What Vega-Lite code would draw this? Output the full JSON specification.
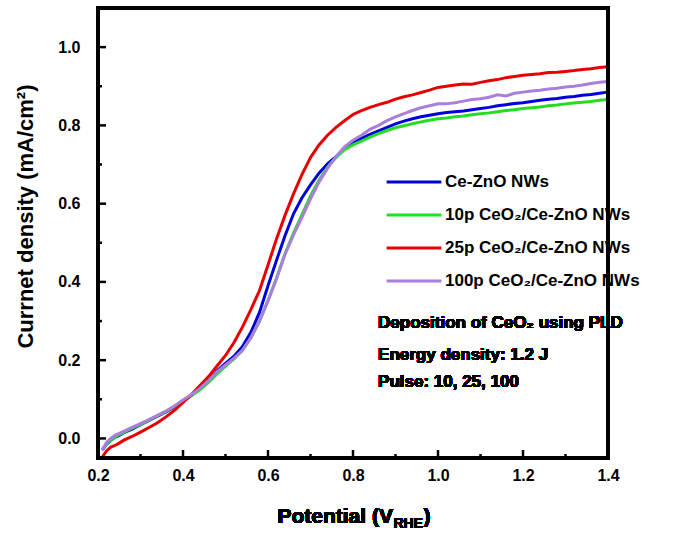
{
  "$schema": "https://vega.github.io/schema/vega-lite/v6.json",
  "width": 510,
  "height": 450,
  "autosize": {"type": "none"},
  "padding": {"left": 98, "top": 8, "right": 65, "bottom": 80},
  "background": "white",
  "config": {"view": {"stroke": "#000000", "strokeWidth": 2.5}, "font": "Liberation Sans"},
  "resolve": {"axis": {"x": "independent", "y": "independent"}},
  "data": {"values": [
    {"v":0.21,"Ce-ZnO NWs":-0.030,"10p CeO₂/Ce-ZnO NWs":-0.028,"25p CeO₂/Ce-ZnO NWs":-0.048,"100p CeO₂/Ce-ZnO NWs":-0.030},
    {"v":0.22,"Ce-ZnO NWs":-0.015,"10p CeO₂/Ce-ZnO NWs":-0.015,"25p CeO₂/Ce-ZnO NWs":-0.032,"100p CeO₂/Ce-ZnO NWs":-0.010},
    {"v":0.23,"Ce-ZnO NWs":-0.005,"10p CeO₂/Ce-ZnO NWs":-0.005,"25p CeO₂/Ce-ZnO NWs":-0.022,"100p CeO₂/Ce-ZnO NWs":0.000},
    {"v":0.24,"Ce-ZnO NWs":0.003,"10p CeO₂/Ce-ZnO NWs":0.004,"25p CeO₂/Ce-ZnO NWs":-0.018,"100p CeO₂/Ce-ZnO NWs":0.008},
    {"v":0.25,"Ce-ZnO NWs":0.008,"10p CeO₂/Ce-ZnO NWs":0.010,"25p CeO₂/Ce-ZnO NWs":-0.012,"100p CeO₂/Ce-ZnO NWs":0.013},
    {"v":0.26,"Ce-ZnO NWs":0.014,"10p CeO₂/Ce-ZnO NWs":0.015,"25p CeO₂/Ce-ZnO NWs":-0.005,"100p CeO₂/Ce-ZnO NWs":0.018},
    {"v":0.28,"Ce-ZnO NWs":0.024,"10p CeO₂/Ce-ZnO NWs":0.026,"25p CeO₂/Ce-ZnO NWs":0.005,"100p CeO₂/Ce-ZnO NWs":0.028},
    {"v":0.30,"Ce-ZnO NWs":0.035,"10p CeO₂/Ce-ZnO NWs":0.036,"25p CeO₂/Ce-ZnO NWs":0.016,"100p CeO₂/Ce-ZnO NWs":0.038},
    {"v":0.32,"Ce-ZnO NWs":0.046,"10p CeO₂/Ce-ZnO NWs":0.047,"25p CeO₂/Ce-ZnO NWs":0.028,"100p CeO₂/Ce-ZnO NWs":0.048},
    {"v":0.34,"Ce-ZnO NWs":0.057,"10p CeO₂/Ce-ZnO NWs":0.058,"25p CeO₂/Ce-ZnO NWs":0.040,"100p CeO₂/Ce-ZnO NWs":0.059},
    {"v":0.36,"Ce-ZnO NWs":0.068,"10p CeO₂/Ce-ZnO NWs":0.069,"25p CeO₂/Ce-ZnO NWs":0.055,"100p CeO₂/Ce-ZnO NWs":0.070},
    {"v":0.38,"Ce-ZnO NWs":0.081,"10p CeO₂/Ce-ZnO NWs":0.082,"25p CeO₂/Ce-ZnO NWs":0.072,"100p CeO₂/Ce-ZnO NWs":0.083},
    {"v":0.40,"Ce-ZnO NWs":0.096,"10p CeO₂/Ce-ZnO NWs":0.097,"25p CeO₂/Ce-ZnO NWs":0.092,"100p CeO₂/Ce-ZnO NWs":0.098},
    {"v":0.42,"Ce-ZnO NWs":0.110,"10p CeO₂/Ce-ZnO NWs":0.110,"25p CeO₂/Ce-ZnO NWs":0.112,"100p CeO₂/Ce-ZnO NWs":0.112},
    {"v":0.44,"Ce-ZnO NWs":0.128,"10p CeO₂/Ce-ZnO NWs":0.124,"25p CeO₂/Ce-ZnO NWs":0.135,"100p CeO₂/Ce-ZnO NWs":0.128},
    {"v":0.46,"Ce-ZnO NWs":0.150,"10p CeO₂/Ce-ZnO NWs":0.143,"25p CeO₂/Ce-ZnO NWs":0.158,"100p CeO₂/Ce-ZnO NWs":0.148},
    {"v":0.48,"Ce-ZnO NWs":0.173,"10p CeO₂/Ce-ZnO NWs":0.165,"25p CeO₂/Ce-ZnO NWs":0.185,"100p CeO₂/Ce-ZnO NWs":0.170},
    {"v":0.50,"Ce-ZnO NWs":0.192,"10p CeO₂/Ce-ZnO NWs":0.185,"25p CeO₂/Ce-ZnO NWs":0.212,"100p CeO₂/Ce-ZnO NWs":0.188},
    {"v":0.52,"Ce-ZnO NWs":0.210,"10p CeO₂/Ce-ZnO NWs":0.203,"25p CeO₂/Ce-ZnO NWs":0.245,"100p CeO₂/Ce-ZnO NWs":0.205},
    {"v":0.54,"Ce-ZnO NWs":0.235,"10p CeO₂/Ce-ZnO NWs":0.225,"25p CeO₂/Ce-ZnO NWs":0.285,"100p CeO₂/Ce-ZnO NWs":0.225},
    {"v":0.56,"Ce-ZnO NWs":0.272,"10p CeO₂/Ce-ZnO NWs":0.258,"25p CeO₂/Ce-ZnO NWs":0.330,"100p CeO₂/Ce-ZnO NWs":0.258},
    {"v":0.58,"Ce-ZnO NWs":0.322,"10p CeO₂/Ce-ZnO NWs":0.300,"25p CeO₂/Ce-ZnO NWs":0.378,"100p CeO₂/Ce-ZnO NWs":0.300},
    {"v":0.60,"Ce-ZnO NWs":0.390,"10p CeO₂/Ce-ZnO NWs":0.352,"25p CeO₂/Ce-ZnO NWs":0.443,"100p CeO₂/Ce-ZnO NWs":0.352},
    {"v":0.62,"Ce-ZnO NWs":0.455,"10p CeO₂/Ce-ZnO NWs":0.410,"25p CeO₂/Ce-ZnO NWs":0.510,"100p CeO₂/Ce-ZnO NWs":0.408},
    {"v":0.64,"Ce-ZnO NWs":0.518,"10p CeO₂/Ce-ZnO NWs":0.472,"25p CeO₂/Ce-ZnO NWs":0.570,"100p CeO₂/Ce-ZnO NWs":0.470},
    {"v":0.66,"Ce-ZnO NWs":0.574,"10p CeO₂/Ce-ZnO NWs":0.525,"25p CeO₂/Ce-ZnO NWs":0.625,"100p CeO₂/Ce-ZnO NWs":0.520},
    {"v":0.68,"Ce-ZnO NWs":0.615,"10p CeO₂/Ce-ZnO NWs":0.572,"25p CeO₂/Ce-ZnO NWs":0.675,"100p CeO₂/Ce-ZnO NWs":0.565},
    {"v":0.70,"Ce-ZnO NWs":0.648,"10p CeO₂/Ce-ZnO NWs":0.620,"25p CeO₂/Ce-ZnO NWs":0.718,"100p CeO₂/Ce-ZnO NWs":0.612},
    {"v":0.72,"Ce-ZnO NWs":0.678,"10p CeO₂/Ce-ZnO NWs":0.660,"25p CeO₂/Ce-ZnO NWs":0.750,"100p CeO₂/Ce-ZnO NWs":0.655},
    {"v":0.74,"Ce-ZnO NWs":0.702,"10p CeO₂/Ce-ZnO NWs":0.693,"25p CeO₂/Ce-ZnO NWs":0.775,"100p CeO₂/Ce-ZnO NWs":0.690},
    {"v":0.76,"Ce-ZnO NWs":0.720,"10p CeO₂/Ce-ZnO NWs":0.718,"25p CeO₂/Ce-ZnO NWs":0.795,"100p CeO₂/Ce-ZnO NWs":0.720},
    {"v":0.78,"Ce-ZnO NWs":0.740,"10p CeO₂/Ce-ZnO NWs":0.738,"25p CeO₂/Ce-ZnO NWs":0.812,"100p CeO₂/Ce-ZnO NWs":0.745},
    {"v":0.80,"Ce-ZnO NWs":0.757,"10p CeO₂/Ce-ZnO NWs":0.750,"25p CeO₂/Ce-ZnO NWs":0.828,"100p CeO₂/Ce-ZnO NWs":0.762},
    {"v":0.82,"Ce-ZnO NWs":0.767,"10p CeO₂/Ce-ZnO NWs":0.760,"25p CeO₂/Ce-ZnO NWs":0.838,"100p CeO₂/Ce-ZnO NWs":0.775},
    {"v":0.84,"Ce-ZnO NWs":0.777,"10p CeO₂/Ce-ZnO NWs":0.770,"25p CeO₂/Ce-ZnO NWs":0.846,"100p CeO₂/Ce-ZnO NWs":0.790},
    {"v":0.86,"Ce-ZnO NWs":0.786,"10p CeO₂/Ce-ZnO NWs":0.779,"25p CeO₂/Ce-ZnO NWs":0.853,"100p CeO₂/Ce-ZnO NWs":0.800},
    {"v":0.88,"Ce-ZnO NWs":0.795,"10p CeO₂/Ce-ZnO NWs":0.787,"25p CeO₂/Ce-ZnO NWs":0.859,"100p CeO₂/Ce-ZnO NWs":0.812},
    {"v":0.90,"Ce-ZnO NWs":0.804,"10p CeO₂/Ce-ZnO NWs":0.794,"25p CeO₂/Ce-ZnO NWs":0.867,"100p CeO₂/Ce-ZnO NWs":0.822},
    {"v":0.92,"Ce-ZnO NWs":0.811,"10p CeO₂/Ce-ZnO NWs":0.799,"25p CeO₂/Ce-ZnO NWs":0.873,"100p CeO₂/Ce-ZnO NWs":0.830},
    {"v":0.94,"Ce-ZnO NWs":0.817,"10p CeO₂/Ce-ZnO NWs":0.804,"25p CeO₂/Ce-ZnO NWs":0.878,"100p CeO₂/Ce-ZnO NWs":0.838},
    {"v":0.96,"Ce-ZnO NWs":0.822,"10p CeO₂/Ce-ZnO NWs":0.809,"25p CeO₂/Ce-ZnO NWs":0.884,"100p CeO₂/Ce-ZnO NWs":0.845},
    {"v":0.98,"Ce-ZnO NWs":0.826,"10p CeO₂/Ce-ZnO NWs":0.813,"25p CeO₂/Ce-ZnO NWs":0.890,"100p CeO₂/Ce-ZnO NWs":0.850},
    {"v":1.00,"Ce-ZnO NWs":0.830,"10p CeO₂/Ce-ZnO NWs":0.817,"25p CeO₂/Ce-ZnO NWs":0.897,"100p CeO₂/Ce-ZnO NWs":0.855},
    {"v":1.02,"Ce-ZnO NWs":0.833,"10p CeO₂/Ce-ZnO NWs":0.819,"25p CeO₂/Ce-ZnO NWs":0.900,"100p CeO₂/Ce-ZnO NWs":0.855},
    {"v":1.04,"Ce-ZnO NWs":0.835,"10p CeO₂/Ce-ZnO NWs":0.822,"25p CeO₂/Ce-ZnO NWs":0.903,"100p CeO₂/Ce-ZnO NWs":0.858},
    {"v":1.06,"Ce-ZnO NWs":0.837,"10p CeO₂/Ce-ZnO NWs":0.824,"25p CeO₂/Ce-ZnO NWs":0.906,"100p CeO₂/Ce-ZnO NWs":0.862},
    {"v":1.08,"Ce-ZnO NWs":0.840,"10p CeO₂/Ce-ZnO NWs":0.827,"25p CeO₂/Ce-ZnO NWs":0.905,"100p CeO₂/Ce-ZnO NWs":0.866},
    {"v":1.10,"Ce-ZnO NWs":0.843,"10p CeO₂/Ce-ZnO NWs":0.830,"25p CeO₂/Ce-ZnO NWs":0.910,"100p CeO₂/Ce-ZnO NWs":0.868},
    {"v":1.12,"Ce-ZnO NWs":0.846,"10p CeO₂/Ce-ZnO NWs":0.832,"25p CeO₂/Ce-ZnO NWs":0.914,"100p CeO₂/Ce-ZnO NWs":0.872},
    {"v":1.14,"Ce-ZnO NWs":0.850,"10p CeO₂/Ce-ZnO NWs":0.835,"25p CeO₂/Ce-ZnO NWs":0.917,"100p CeO₂/Ce-ZnO NWs":0.878},
    {"v":1.16,"Ce-ZnO NWs":0.853,"10p CeO₂/Ce-ZnO NWs":0.838,"25p CeO₂/Ce-ZnO NWs":0.922,"100p CeO₂/Ce-ZnO NWs":0.875},
    {"v":1.18,"Ce-ZnO NWs":0.856,"10p CeO₂/Ce-ZnO NWs":0.840,"25p CeO₂/Ce-ZnO NWs":0.925,"100p CeO₂/Ce-ZnO NWs":0.882},
    {"v":1.20,"Ce-ZnO NWs":0.858,"10p CeO₂/Ce-ZnO NWs":0.843,"25p CeO₂/Ce-ZnO NWs":0.928,"100p CeO₂/Ce-ZnO NWs":0.885},
    {"v":1.22,"Ce-ZnO NWs":0.861,"10p CeO₂/Ce-ZnO NWs":0.845,"25p CeO₂/Ce-ZnO NWs":0.930,"100p CeO₂/Ce-ZnO NWs":0.888},
    {"v":1.24,"Ce-ZnO NWs":0.864,"10p CeO₂/Ce-ZnO NWs":0.847,"25p CeO₂/Ce-ZnO NWs":0.932,"100p CeO₂/Ce-ZnO NWs":0.890},
    {"v":1.26,"Ce-ZnO NWs":0.867,"10p CeO₂/Ce-ZnO NWs":0.850,"25p CeO₂/Ce-ZnO NWs":0.935,"100p CeO₂/Ce-ZnO NWs":0.893},
    {"v":1.28,"Ce-ZnO NWs":0.869,"10p CeO₂/Ce-ZnO NWs":0.852,"25p CeO₂/Ce-ZnO NWs":0.936,"100p CeO₂/Ce-ZnO NWs":0.895},
    {"v":1.30,"Ce-ZnO NWs":0.872,"10p CeO₂/Ce-ZnO NWs":0.855,"25p CeO₂/Ce-ZnO NWs":0.938,"100p CeO₂/Ce-ZnO NWs":0.898},
    {"v":1.32,"Ce-ZnO NWs":0.874,"10p CeO₂/Ce-ZnO NWs":0.857,"25p CeO₂/Ce-ZnO NWs":0.940,"100p CeO₂/Ce-ZnO NWs":0.900},
    {"v":1.34,"Ce-ZnO NWs":0.877,"10p CeO₂/Ce-ZnO NWs":0.859,"25p CeO₂/Ce-ZnO NWs":0.943,"100p CeO₂/Ce-ZnO NWs":0.903},
    {"v":1.36,"Ce-ZnO NWs":0.879,"10p CeO₂/Ce-ZnO NWs":0.861,"25p CeO₂/Ce-ZnO NWs":0.945,"100p CeO₂/Ce-ZnO NWs":0.907},
    {"v":1.38,"Ce-ZnO NWs":0.882,"10p CeO₂/Ce-ZnO NWs":0.864,"25p CeO₂/Ce-ZnO NWs":0.948,"100p CeO₂/Ce-ZnO NWs":0.910},
    {"v":1.40,"Ce-ZnO NWs":0.885,"10p CeO₂/Ce-ZnO NWs":0.866,"25p CeO₂/Ce-ZnO NWs":0.950,"100p CeO₂/Ce-ZnO NWs":0.912}
  ]},
  "layer": [
    {
      "transform": [{"fold": ["Ce-ZnO NWs", "10p CeO₂/Ce-ZnO NWs", "25p CeO₂/Ce-ZnO NWs", "100p CeO₂/Ce-ZnO NWs"], "as": ["series", "j"]}],
      "mark": {"type": "line", "strokeWidth": 3},
      "encoding": {
        "x": {"field": "v", "type": "quantitative",
          "scale": {"domain": [0.2, 1.4], "nice": false, "zero": false},
          "axis": {"title": null, "values": [0.2,0.4,0.6,0.8,1.0,1.2,1.4], "format": ".1f",
            "grid": false, "domain": false, "ticks": false,
            "labelPadding": 9, "labelFontSize": 16, "labelFontWeight": "bold", "labelColor": "black", "labelFlush": false}},
        "y": {"field": "j", "type": "quantitative",
          "scale": {"domain": [-0.05, 1.1], "nice": false, "zero": false},
          "axis": {"title": "Currnet density (mA/cm²)", "values": [0,0.2,0.4,0.6,0.8,1.0], "format": ".1f",
            "grid": false, "domain": false, "ticks": false,
            "labelPadding": 18, "labelFontSize": 16, "labelFontWeight": "bold", "labelColor": "black",
            "titleFontSize": 22, "titleFontWeight": "bold", "titleColor": "black", "titleX": -61, "titleY": 208, "titleBaseline": "bottom", "titleAngle": 270}},
        "color": {"field": "series", "type": "nominal",
          "scale": {"domain": ["Ce-ZnO NWs", "10p CeO₂/Ce-ZnO NWs", "25p CeO₂/Ce-ZnO NWs", "100p CeO₂/Ce-ZnO NWs"],
                    "range": ["#0000dd", "#22dd22", "#e80000", "#a97fdb"]},
          "legend": {"orient": "none", "legendX": 287, "legendY": 164, "title": null, "symbolType": "stroke",
            "symbolSize": 3000, "symbolStrokeWidth": 3, "labelFontSize": 17, "labelFontWeight": "bold", "labelColor": "black",
            "clipHeight": 20, "rowPadding": 13, "labelOffset": 2, "padding": 0, "labelLimit": 300}}
      }
    },
    {"mark": {"type": "rect", "filled": false, "color": "#000000", "strokeWidth": 2.5},
     "encoding": {"x": {"datum": 0.2, "axis": null}, "x2": {"datum": 1.4}, "y": {"datum": -0.05, "axis": null}, "y2": {"datum": 1.1}}},
    {"data": {"values": [{"t":0.4},{"t":0.6},{"t":0.8},{"t":1.0},{"t":1.2}]},
     "mark": {"type": "rule", "color": "#000000", "strokeWidth": 2.5},
     "encoding": {"x": {"field": "t", "type": "quantitative", "axis": null}, "y": {"datum": -0.05, "axis": null}, "y2": {"datum": -0.0295}}},
    {"data": {"values": [{"t":0.3},{"t":0.5},{"t":0.7},{"t":0.9},{"t":1.1},{"t":1.3}]},
     "mark": {"type": "rule", "color": "#000000", "strokeWidth": 2.5},
     "encoding": {"x": {"field": "t", "type": "quantitative", "axis": null}, "y": {"datum": -0.05, "axis": null}, "y2": {"datum": -0.0398}}},
    {"data": {"values": [{"t":0.0},{"t":0.2},{"t":0.4},{"t":0.6},{"t":0.8},{"t":1.0}]},
     "mark": {"type": "rule", "color": "#000000", "strokeWidth": 2.5},
     "encoding": {"y": {"field": "t", "type": "quantitative", "axis": null}, "x": {"datum": 0.2, "axis": null}, "x2": {"datum": 0.2188}}},
    {"data": {"values": [{"t":0.1},{"t":0.3},{"t":0.5},{"t":0.7},{"t":0.9}]},
     "mark": {"type": "rule", "color": "#000000", "strokeWidth": 2.5},
     "encoding": {"y": {"field": "t", "type": "quantitative", "axis": null}, "x": {"datum": 0.2, "axis": null}, "x2": {"datum": 0.2094}}},
    {"mark": {"type": "text", "align": "left", "baseline": "middle", "fontSize": 17, "fontWeight": "bold", "fill": "#000000"},
     "encoding": {"x": {"datum": 0.859, "axis": null}, "y": {"datum": 0.294, "axis": null}, "text": {"value": "Deposition of CeO₂ using PLD"}}},
    {"mark": {"type": "text", "align": "left", "baseline": "middle", "fontSize": 17, "fontWeight": "bold", "fill": "#000000"},
     "encoding": {"x": {"datum": 0.859, "axis": null}, "y": {"datum": 0.212, "axis": null}, "text": {"value": "Energy density: 1.2 J"}}},
    {"mark": {"type": "text", "align": "left", "baseline": "middle", "fontSize": 17, "fontWeight": "bold", "fill": "#000000"},
     "encoding": {"x": {"datum": 0.859, "axis": null}, "y": {"datum": 0.143, "axis": null}, "text": {"value": "Pulse: 10, 25, 100"}}},
    {"mark": {"type": "text", "align": "right", "baseline": "alphabetic", "fontSize": 21, "fontWeight": "bold", "fill": "#000000"},
     "encoding": {"x": {"datum": 0.894, "axis": null}, "y": {"datum": -0.215, "axis": null}, "text": {"value": "Potential (V"}}},
    {"mark": {"type": "text", "align": "left", "baseline": "alphabetic", "fontSize": 14, "fontWeight": "bold", "fill": "#000000"},
     "encoding": {"x": {"datum": 0.895, "axis": null}, "y": {"datum": -0.229, "axis": null}, "text": {"value": "RHE"}}},
    {"mark": {"type": "text", "align": "left", "baseline": "alphabetic", "fontSize": 21, "fontWeight": "bold", "fill": "#000000"},
     "encoding": {"x": {"datum": 0.966, "axis": null}, "y": {"datum": -0.215, "axis": null}, "text": {"value": ")"}}}
  ]
}
